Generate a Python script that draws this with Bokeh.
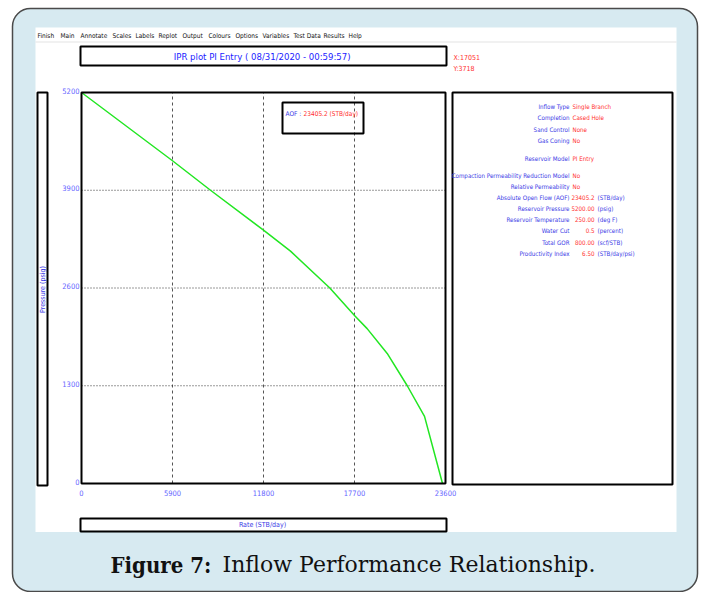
import math
from bokeh.plotting import figure
from bokeh.models import BoxAnnotation, Label, Range1d
from bokeh.core.properties import value
from bokeh.embed import file_html
from bokeh.resources import INLINE

# ---------------- data ----------------
rate = [0, 5900, 8364, 11800, 13550, 16100, 17700, 18520, 19820, 21120, 22240, 23405.2]
pressure = [5200, 4292, 3900, 3370, 3090, 2600, 2234, 2060, 1730, 1300, 893, 0]
x_ticks = [0, 5900, 11800, 17700, 23600]
y_ticks = [0, 1300, 2600, 3900, 5200]
menu_items = ["Finish", "Main", "Annotate", "Scales", "Labels", "Replot", "Output",
              "Colours", "Options", "Variables", "Test Data", "Results", "Help"]
title_text = "IPR plot  PI Entry ( 08/31/2020 - 00:59:57)"
cursor_text = ["X:17051", "Y:3718"]
info_labels = ["Inflow Type", "Completion", "Sand Control", "Gas Coning", "Reservoir Model",
               "Compaction Permeability Reduction Model", "Relative Permeability",
               "Absolute Open Flow (AOF)", "Reservoir Pressure", "Reservoir Temperature",
               "Water Cut", "Total GOR", "Productivity Index"]
info_values = ["Single Branch", "Cased Hole", "None", "No", "PI Entry", "No", "No",
               "23405.2", "5200.00", "250.00", "0.5", "800.00", "6.50"]
info_units = ["", "", "", "", "", "", "", "(STB/day)", "(psig)", "(deg F)", "(percent)",
              "(scf/STB)", "(STB/day/psi)"]
aof_label = "AOF :"
aof_value = "23405.2 (STB/day)"
x_label = "Rate  (STB/day)"
y_label = "Pressure  (psig)"
caption_bold = "Figure 7:"
caption_rest = "Inflow Performance Relationship."

# ---------------- canvas / plot-box geometry (pixels) ----------------
W, H = 703, 592
PL, PR, PT, PB = 81, 445, 92, 483  # plot box edges in canvas pixels

# data ranges chosen so the plot box maps onto PL..PR / PB..PT
xmin, xmax = x_ticks[0], x_ticks[-1]
ymin, ymax = y_ticks[0], y_ticks[-1]
ux = (xmax - xmin) / (PR - PL)
uy = (ymax - ymin) / (PB - PT)
rate_range = Range1d(start=xmin - PL * ux, end=xmax + (W - PR) * ux)
psi_range = Range1d(start=ymin - (H - PB) * uy, end=ymax + PT * uy)

FONT = "DejaVu Sans Condensed, Liberation Sans Narrow, Liberation Sans"
SERIF_C = "DejaVu Serif Condensed, DejaVu Serif, Liberation Serif"
SERIF = "DejaVu Serif, Liberation Serif"
BLUE = "#3a3ae6"
TICKBLUE = "#6464ff"
RED = "#ff2e2e"

p = figure(width=W, height=H, x_range=Range1d(0, W), y_range=Range1d(H, 0),
           x_axis_location=None, y_axis_location=None,
           output_backend="svg", toolbar_location=None,
           min_border=0, min_border_left=0, min_border_right=0, min_border_top=0,
           min_border_bottom=0,
           background_fill_color="white", border_fill_color="white",
           outline_line_color=None)
p.grid.visible = False
p.extra_x_ranges = {"rate": rate_range}
p.extra_y_ranges = {"psi": psi_range}


def box(l, t, r, b, fill=None, line="black", lw=2, level="annotation", radius=None):
    kw = dict(left=l, right=r, top=t, bottom=b,
              fill_color=fill if fill else "white", fill_alpha=1 if fill else 0,
              line_color=line if line else "white", line_width=lw, line_alpha=1 if line else 0,
              level=level)
    if radius is not None:
        kw["border_radius"] = radius
    b_ = BoxAnnotation(**kw)
    p.add_layout(b_)
    return b_


def label(px, py, text, color="black", size="8px", font=FONT, align="left", style="normal", angle=0):
    lab = Label(x=px, y=py, text=text,
                text_color=color, text_font_size=size, text_font=font, text_align=align,
                text_baseline="middle", text_font_style=style, angle=angle)
    p.add_layout(lab)
    return lab


# background panels
box(12, 8, 697, 591, fill="#d7eaf1", line="#4a4a4a", lw=1.5, level="image", radius=18)
box(35, 27, 676, 531.5, fill="white", line=None, level="image")
box(35, 41, 676, 42, fill="#e4e4e4", line=None, level="image")

# grid lines (dashed verticals, dotted horizontals)
gx = x_ticks[1:-1]
gy = y_ticks[1:-1]
p.segment(x0=gx, y0=[ymin] * len(gx), x1=gx, y1=[ymax] * len(gx),
          x_range_name="rate", y_range_name="psi",
          line_color="#555555", line_width=1, line_dash="3 3")
p.segment(x0=[xmin] * len(gy), y0=gy, x1=[xmax] * len(gy), y1=gy,
          x_range_name="rate", y_range_name="psi",
          line_color="#333333", line_width=1, line_dash="1 2")

# IPR curve
p.line(rate, pressure, x_range_name="rate", y_range_name="psi",
       line_color="#22e622", line_width=1.5)

# plot box outline
p.quad(left=[xmin], right=[xmax], bottom=[ymin], top=[ymax],
       x_range_name="rate", y_range_name="psi",
       fill_alpha=0, line_color="black", line_width=2)

# tick labels
p.text(x=x_ticks, y=[ymin] * len(x_ticks), text=[str(t) for t in x_ticks],
       x_range_name="rate", y_range_name="psi", y_offset=9,
       text_align="center", text_baseline="middle", text_font=value(FONT),
       text_font_size="7.5px", text_color=TICKBLUE)
p.text(x=[xmin] * len(y_ticks), y=y_ticks, text=[str(t) for t in y_ticks],
       x_range_name="rate", y_range_name="psi", x_offset=-2, y_offset=-2,
       text_align="right", text_baseline="middle", text_font=value(FONT),
       text_font_size="7.5px", text_color=TICKBLUE)

# menu bar
menu_x = [37, 60, 80, 112, 135, 158, 182, 208, 235, 262, 293, 323, 348]
for mx, item in zip(menu_x, menu_items):
    label(mx, 35, item, color="#111111", size="6.5px")

# title box
box(80, 46, 446, 65)
label(263, 55.5, title_text, color="#1c1cff", size="9.5px", align="center")
label(453, 57, cursor_text[0], color=RED, size="7px")
label(453, 68, cursor_text[1], color=RED, size="7px")

# AOF box inside plot
box(282, 102, 363, 133)
label(285, 113, aof_label, color=BLUE, size="6.5px")
label(303, 113, aof_value, color=RED, size="6.5px")

# info panel
box(452, 92, 672, 484)
INFO = "6.2px"
row_y = [105.5, 117, 128.5, 140, 157.5, 174.5, 186, 197, 208, 219, 230, 241.5, 253]
for yy, lab_, val, unit in zip(row_y, info_labels, info_values, info_units):
    label(569, yy, lab_, color=BLUE, size=INFO, align="right")
    if unit:
        label(594, yy, val, color=RED, size=INFO, align="right")
        label(597, yy, unit, color=BLUE, size=INFO)
    else:
        label(572, yy, val, color=RED, size=INFO)

# axis label boxes
box(37, 92, 47, 485)
label(42, 288, y_label, color=BLUE, size="7px", align="center", angle=math.pi / 2)
box(80, 518, 446, 531)
label(263, 524.5, x_label, color=BLUE, size="7px", align="center")

# caption
label(110, 564, caption_bold, color="#111111", size="22px", font=SERIF_C, style="bold")
label(222, 564, caption_rest, color="#111111", size="22px", font=SERIF)

open("out.html", "w").write(file_html(p, INLINE))
